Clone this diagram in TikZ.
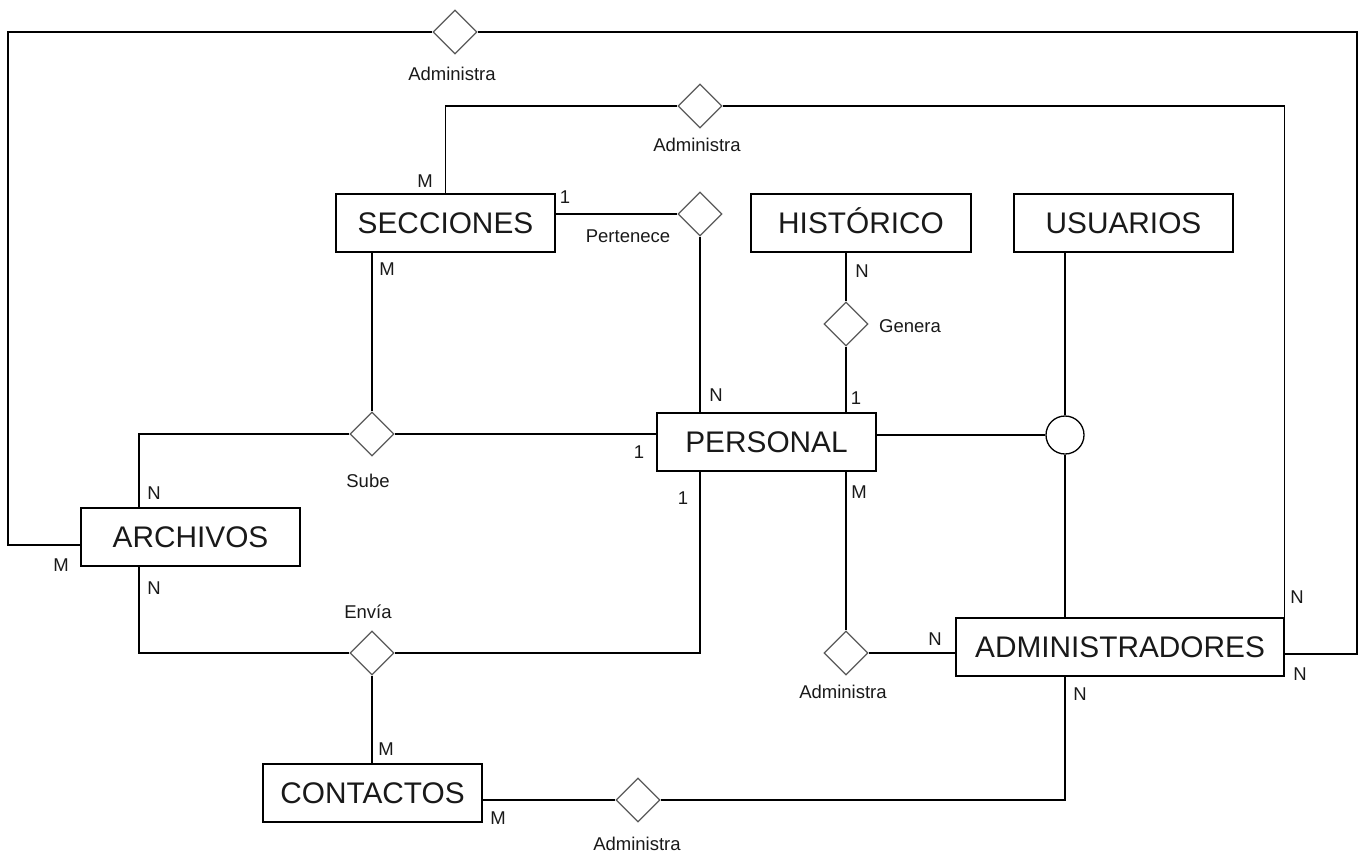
\documentclass[tikz,border=0pt]{standalone}
\usepackage{fontspec}
\setmainfont{Liberation Sans}
\usetikzlibrary{shapes.geometric}
\begin{document}
\begin{tikzpicture}[x=1pt,y=-1pt,
  entity/.style={draw=black,line width=1.3pt,rectangle,minimum height=58pt,inner sep=0pt,text height=21.2pt,text depth=0pt,font=\fontsize{29.8}{30}\selectfont,text=black!90},
  rel/.style={draw=black!65,line width=1.3pt,diamond,minimum width=44pt,minimum height=44pt,inner sep=0pt,fill=white},
  lbl/.style={inner sep=0pt,font=\fontsize{18.5}{19}\selectfont,text=black!90},
  conn/.style={draw=black,line width=1.3pt}]
\useasboundingbox (0,0) rectangle (1362,852);
% entities
\node[entity,minimum width=219pt] (sec) at (445.5,223) {SECCIONES};
\node[entity,minimum width=220pt] (hist) at (861,223) {HISTÓRICO};
\node[entity,minimum width=219pt] (usu) at (1123.5,223) {USUARIOS};
\node[entity,minimum width=219pt] (per) at (766.5,442) {PERSONAL};
\node[entity,minimum width=219pt] (arch) at (190.5,537) {ARCHIVOS};
\node[entity,minimum width=219pt] (cont) at (372.5,793) {CONTACTOS};
\node[entity,minimum width=328pt] (adm) at (1120,647) {ADMINISTRADORES};
% relationships
\node[rel] (adm1) at (455,32) {};
\node[rel] (adm2) at (700,106) {};
\node[rel] (pert) at (700,214) {};
\node[rel] (gen) at (846,324) {};
\node[rel] (sube) at (372,434) {};
\node[rel] (envia) at (372,653) {};
\node[rel] (adm3) at (846,653) {};
\node[rel] (adm4) at (638,800) {};
\node[draw=black,line width=1.3pt,circle,minimum size=38pt,inner sep=0pt] (circ) at (1065,435) {};
% connectors
\draw[conn] (arch.west |- 0,545) -| (8,32) -- (adm1.west);
\draw[conn] (adm1.east) -| (1357,654) -- (adm.east |- 0,654);
\draw[conn] (sec.north) |- (adm2.west);
\draw[conn] (adm2.east) -| (adm.north east);
\draw[conn] (sec.east |- pert) -- (pert.west);
\draw[conn] (pert.south) -- (per.north -| pert);
\draw[conn] (hist.south -| gen) -- (gen.north);
\draw[conn] (gen.south) -- (per.north -| gen);
\draw[conn] (sec.south -| sube) -- (sube.north);
\draw[conn] (sube.west) -| (arch.north -| 139,0);
\draw[conn] (sube.east) -- (per.west |- sube);
\draw[conn] (per.east |- circ) -- (circ.west);
\draw[conn] (usu.south -| circ) -- (circ.north);
\draw[conn] (circ.south) -- (adm.north -| circ);
\draw[conn] (per.south -| pert) |- (envia.east);
\draw[conn] (envia.west) -| (arch.south -| 139,0);
\draw[conn] (envia.south) -- (cont.north -| envia);
\draw[conn] (per.south -| gen) -- (adm3.north);
\draw[conn] (adm3.east) -- (adm.west |- adm3);
\draw[conn] (cont.east |- adm4) -- (adm4.west);
\draw[conn] (adm4.east) -| (adm.south -| circ);
% relationship names
\node[lbl] (t1) at (452,74) {Administra};
\node[lbl] (t2) at (697,145) {Administra};
\node[lbl] (t3) at (628,236) {Pertenece};
\node[lbl] (t4) at (910,326) {Genera};
\node[lbl] (t5) at (368,481) {Sube};
\node[lbl] (t6) at (368,612) {Envía};
\node[lbl] (t7) at (843,692) {Administra};
\node[lbl] (t8) at (637,844) {Administra};
% cardinalities
\node[lbl] (c1) at (425,181) {M};
\node[lbl] (c2) at (565,197) {1};
\node[lbl] (c3) at (862,271) {N};
\node[lbl] (c4) at (387,269) {M};
\node[lbl] (c5) at (716,395) {N};
\node[lbl] (c6) at (856,398) {1};
\node[lbl] (c7) at (639,452) {1};
\node[lbl] (c8) at (683,498) {1};
\node[lbl] (c9) at (859,492) {M};
\node[lbl] (c10) at (154,493) {N};
\node[lbl] (c11) at (61,565) {M};
\node[lbl] (c12) at (154,588) {N};
\node[lbl] (c13) at (386,749) {M};
\node[lbl] (c14) at (498,818) {M};
\node[lbl] (c15) at (935,639) {N};
\node[lbl] (c16) at (1080,694) {N};
\node[lbl] (c17) at (1297,597) {N};
\node[lbl] (c18) at (1300,674) {N};
\end{tikzpicture}
\end{document}
